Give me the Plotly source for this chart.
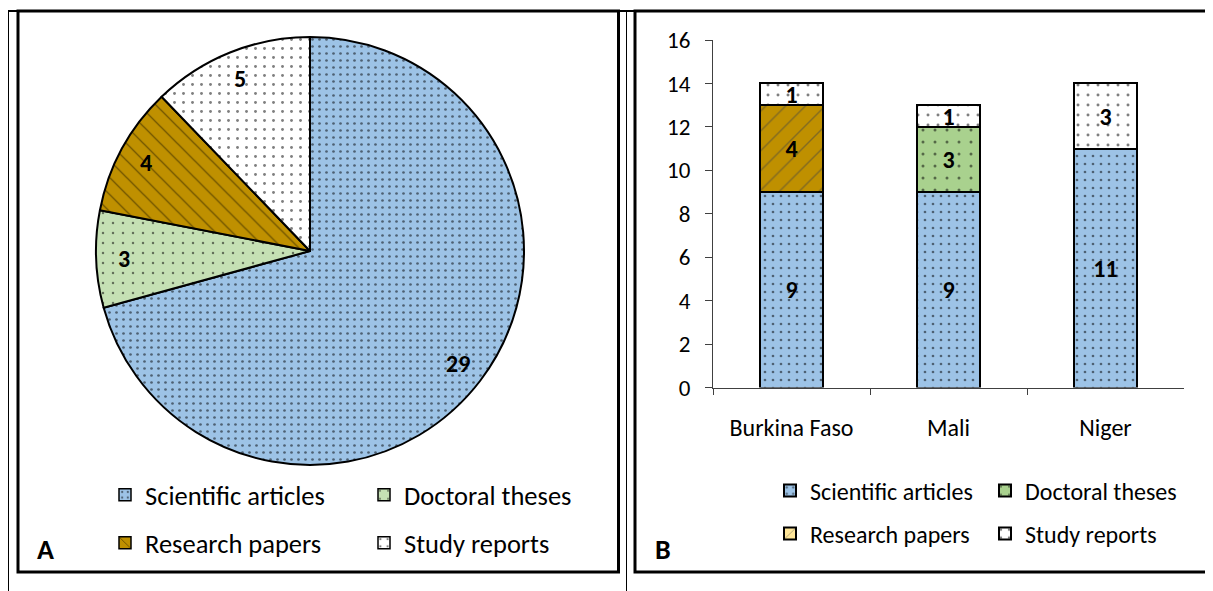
import math
import plotly.graph_objects as go

OFF = 8  # the page places the figure 8 px from the top-left corner
W, H = 1213 - OFF, 591 - OFF

# ---------------- data ----------------
doc_types = ["Scientific articles", "Doctoral theses", "Research papers", "Study reports"]
pie_counts = [29, 3, 4, 5]

countries = ["Burkina Faso", "Mali", "Niger"]
scientific_articles = [9, 9, 11]
doctoral_theses = [0, 3, 0]
research_papers = [4, 0, 0]
study_reports = [1, 1, 3]
y_ticks = [0, 2, 4, 6, 8, 10, 12, 14, 16]

# ---------------- styles ----------------
FONT = "Carlito, Lato, sans-serif"
pie_colors = ["#9DC3E6", "#C5E0B4", "#BF9000", "#FFFFFF"]
bar_colors = ["#9DC3E6", "#A9D18E", "#BF9000", "#FFFFFF"]
research_legend_color = "#FFE699"
pie_shapes = [".", ".", "\\", "."]
pie_psize = [7, 10, 12, 9]
pie_psol = [0.12, 0.05, 0.1, 0.08]
bar_shapes = [".", ".", "/", "."]
bar_psize = [8, 12, 14, 10]
bar_psol = [0.09, 0.05, 0.1, 0.07]


def px(x):
    return (x - OFF) / W


def py(y):
    return 1 - (y - OFF) / H


fig = go.Figure()

# ---------------- pie (panel A) ----------------
cx, cy, r = 310, 251, 214
fig.add_trace(go.Pie(
    labels=doc_types, values=pie_counts, sort=False, direction="clockwise", rotation=0,
    domain=dict(x=[px(cx - r), px(cx + r)], y=[py(cy + r), py(cy - r)]),
    marker=dict(colors=pie_colors, line=dict(color="black", width=2),
                pattern=dict(shape=pie_shapes, size=pie_psize, solidity=pie_psol,
                             fgcolor="black", bgcolor=pie_colors, fillmode="overlay")),
    textinfo="none", showlegend=False, hoverinfo="label+value",
))

total = sum(pie_counts)
cum = 0
for v in pie_counts:
    a = 2 * math.pi * (cum + v / 2) / total
    fig.add_annotation(
        x=px(cx + 0.87 * r * math.sin(a)), y=py(cy - 0.87 * r * math.cos(a)),
        xref="paper", yref="paper", xanchor="center", yanchor="middle",
        text=str(v), showarrow=False,
        font=dict(size=24, family=FONT, color="black", weight="bold"))
    cum += v

# legend entries for the pie (two rows)
for i, name in enumerate(doc_types):
    fig.add_trace(go.Bar(
        x=[None], y=[None], xaxis="x2", yaxis="y2", name=name,
        marker=dict(color=pie_colors[i], line=dict(color="black", width=1.5),
                    pattern=dict(shape=pie_shapes[i], size=pie_psize[i], solidity=pie_psol[i],
                                 fgcolor="black", bgcolor=pie_colors[i], fillmode="overlay")),
        legend="legend" if i < 2 else "legend2", showlegend=True, hoverinfo="skip",
    ))

# ---------------- stacked bars (panel B) ----------------
series = [scientific_articles, doctoral_theses, research_papers, study_reports]
for i, (name, vals) in enumerate(zip(doc_types, series)):
    if i == 2:
        # bars drawn gold, legend swatch light yellow (as in the original chart)
        marker = dict(color=[1] * len(vals), cmin=0, cmax=1, showscale=False,
                      colorscale=[[0, bar_colors[i]], [0.5, research_legend_color], [1, bar_colors[i]]],
                      line=dict(color="black", width=2),
                      pattern=dict(shape=bar_shapes[i], size=bar_psize[i], solidity=bar_psol[i],
                                   fillmode="overlay"))
    else:
        marker = dict(color=bar_colors[i], line=dict(color="black", width=2),
                      pattern=dict(shape=bar_shapes[i], size=bar_psize[i], solidity=bar_psol[i],
                                   fgcolor="black", bgcolor=bar_colors[i], fillmode="overlay"))
    fig.add_trace(go.Bar(
        x=countries, y=vals, name=name, xaxis="x", yaxis="y", marker=marker,
        text=[str(v) if v else "" for v in vals], texttemplate="%{text}",
        textposition="inside", insidetextanchor="middle", constraintext="none", textangle=0,
        textfont=dict(size=24, family=FONT, color="black", weight="bold"),
        legend="legend3" if i < 2 else "legend4",
    ))

axis_col = "#404040"
leg_common = dict(orientation="h", xanchor="left", yanchor="middle", traceorder="normal",
                  bgcolor="rgba(0,0,0,0)")
fig.update_layout(
    width=W, height=H, margin=dict(l=0, r=0, t=0, b=0, autoexpand=False),
    paper_bgcolor="white", plot_bgcolor="rgba(0,0,0,0)",
    barmode="stack", bargap=0.6,
    font=dict(family=FONT, color="black"),
    xaxis=dict(domain=[px(713), px(1184)], anchor="y", showline=True, linecolor=axis_col,
               linewidth=1, ticks="outside", tickson="boundaries", ticklen=6, tickcolor=axis_col,
               tickfont=dict(size=24, family=FONT, color="black"), showgrid=False,
               ticklabelstandoff=19, fixedrange=True),
    yaxis=dict(domain=[py(387.5), py(40)], anchor="x", range=[0, 16], tickvals=y_ticks,
               showline=True, linecolor=axis_col, linewidth=1, ticks="outside", ticklen=7,
               tickcolor=axis_col, tickfont=dict(size=23, family=FONT, color="black"),
               showgrid=False, zeroline=False, ticklabelstandoff=10, fixedrange=True),
    xaxis2=dict(visible=False, domain=[0, 0.01], anchor="y2"),
    yaxis2=dict(visible=False, domain=[0, 0.01], anchor="x2"),
    legend=dict(x=px(105), y=py(495), entrywidth=214, font=dict(size=26.5, family=FONT), **leg_common),
    legend2=dict(x=px(105), y=py(543), entrywidth=214, font=dict(size=26.5, family=FONT), **leg_common),
    legend3=dict(x=px(770), y=py(491), entrywidth=170, font=dict(size=24, family=FONT), **leg_common),
    legend4=dict(x=px(770), y=py(534), entrywidth=170, font=dict(size=24, family=FONT), **leg_common),
)

# frames
shapes = [
    dict(type="line", x0=px(7), x1=px(1213), y0=py(11), y1=py(11), line=dict(color="black", width=2)),
    dict(type="line", x0=px(8.5), x1=px(8.5), y0=py(11), y1=py(591), line=dict(color="black", width=1)),
    dict(type="line", x0=px(626.5), x1=px(626.5), y0=py(11), y1=py(591), line=dict(color="black", width=1)),
    dict(type="rect", x0=px(18), x1=px(618.5), y0=py(11), y1=py(572), line=dict(color="black", width=3)),
    dict(type="rect", x0=px(635), x1=px(1210.5), y0=py(11), y1=py(572), line=dict(color="black", width=3)),
]
for s in shapes:
    s.update(xref="paper", yref="paper", layer="above")
    fig.add_shape(**s)

for lab, lx in (("A", 45), ("B", 663)):
    fig.add_annotation(x=px(lx), y=py(549), xref="paper", yref="paper", xanchor="center",
                       yanchor="middle", text=lab, showarrow=False,
                       font=dict(size=28, family=FONT, color="black", weight="bold"))

fig.write_html("out.html")
